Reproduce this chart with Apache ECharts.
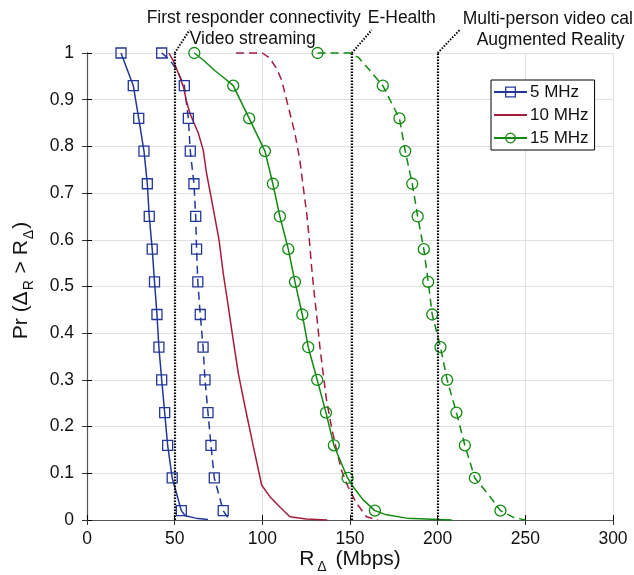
<!DOCTYPE html>
<html><head><meta charset="utf-8">
<script src="https://cdn.jsdelivr.net/npm/echarts@6/dist/echarts.min.js"></script>
<style>html,body{margin:0;padding:0;background:#fff;}#c{width:634px;height:575px;}</style>
</head><body><div id="c"></div>
<script>
// ---- data ----
const xTicks = [0, 50, 100, 150, 200, 250, 300];
const seriesNames = ['5 MHz', '10 MHz', '15 MHz'];
const markerLevels = [1, 0.93, 0.86, 0.79, 0.72, 0.65, 0.58, 0.51, 0.44, 0.37, 0.30, 0.23, 0.16, 0.09, 0.02];
// 5 MHz (solid) - marker x positions at markerLevels, plus extra curve points
const mk5Solid = [19.4, 26.4, 29.5, 32.5, 34.4, 35.5, 37.2, 38.5, 39.9, 41.0, 42.6, 44.3, 46.0, 48.6, 53.8];
const ex5Solid = [[56, 0.009], [62, 0.004], [69, 0.001]];
// 5 MHz (dashed)
const mk5Dash = [42.6, 55.5, 57.8, 58.9, 61.0, 62.0, 62.5, 63.2, 64.6, 66.2, 67.3, 69.0, 70.7, 72.6, 77.7];
const ex5Dash = [[47.3, 0.985], [51.5, 0.962], [80, 0.007], [82.5, 0]];
// 10 MHz (solid)
const c10Solid = [[46.7, 1], [49, 0.985], [52.1, 0.957], [55.2, 0.925], [56.5, 0.90], [58.7, 0.871], [63.5, 0.828],
  [66.3, 0.792], [68.2, 0.742], [71.1, 0.685], [73.9, 0.628], [75.3, 0.60], [77.7, 0.528], [80.6, 0.457],
  [83.4, 0.385], [86.3, 0.314], [90.1, 0.243], [94.9, 0.157], [99.6, 0.075], [104.3, 0.05], [110, 0.028],
  [115.7, 0.007], [125, 0.002], [137, 0]];
// 10 MHz (dashed)
const c10Dash = [[85, 1], [100, 1], [104, 0.99], [108.1, 0.967], [111, 0.942], [114.8, 0.885], [118.6, 0.828],
  [121.4, 0.771], [123.3, 0.714], [125.3, 0.657], [126.8, 0.60], [128.1, 0.542], [129.6, 0.485], [131.3, 0.428],
  [132.8, 0.371], [134.7, 0.314], [136.6, 0.257], [139.4, 0.20], [142.3, 0.15], [145.1, 0.107], [148.9, 0.071],
  [153.7, 0.036], [159.4, 0.007], [166, 0]];
// 15 MHz (solid)
const mk15Solid = [61.2, 83.4, 92.5, 101.5, 106.0, 110.0, 114.8, 118.6, 122.8, 126.2, 131.3, 136.3, 140.8, 148.6, 164.2];
const ex15Solid = [[66.3, 0.985], [73, 0.962], [77.7, 0.948], [152, 0.07], [157.5, 0.043], [170.8, 0.011], [182.3, 0.004], [208, 0]];
// 15 MHz (dashed)
const mk15Dash = [131.5, 168.7, 178.2, 181.5, 185.5, 188.6, 192.1, 194.6, 196.9, 201.6, 205.4, 210.7, 215.5, 221.2, 235.8];
const ex15Dash = [[150, 1], [155, 0.99], [159.4, 0.971], [229.5, 0.052], [243, 0.006], [250, 0]];
// service thresholds (vertical dotted lines)
const serviceRates = [50, 151, 200];
const serviceLabels = [
  ['First responder connectivity', 'Video streaming'],
  ['E-Health'],
  ['Multi-person video call', 'Augmented Reality']
];

// ---- styles ----
const FONT = '"Liberation Sans", Arial, Helvetica, sans-serif';
const FS = 17.5;
const NFS = 21;
const BLUE = '#22379a', RED = '#a51d3d', GREEN = '#108a10';

function build(markX, extra) {
  const pts = [];
  markX.forEach((x, i) => pts.push({ value: [x, markerLevels[i]] }));
  extra.forEach(p => pts.push({ value: p, symbol: 'none' }));
  pts.sort((a, b) => (b.value[1] - a.value[1]) || (a.value[0] - b.value[0]));
  return pts;
}
function plain(arr) { return arr.map(p => ({ value: p, symbol: 'none' })); }

function lineSeries(id, name, data, color, dashed, symbol, size) {
  return {
    id, name, type: 'line', data, clip: false, showAllSymbol: true,
    symbol: symbol, symbolSize: size, z: 3,
    itemStyle: { color: 'rgba(0,0,0,0)', borderColor: color, borderWidth: 1.3 },
    lineStyle: { color: color, width: 1.5, type: dashed ? [8, 5] : 'solid' },
    emphasis: { disabled: true }
  };
}

const chart = echarts.init(document.getElementById('c'), null, { renderer: 'canvas' });
const option = {
  animation: false,
  backgroundColor: '#fff',
  textStyle: { fontFamily: FONT },
  grid: { left: 87, right: 21, top: 53, bottom: 55, containLabel: false, outerBoundsMode: 'none' },
  xAxis: [{
    type: 'value', min: xTicks[0], max: xTicks[xTicks.length - 1], interval: xTicks[1] - xTicks[0],
    position: 'bottom',
    axisLine: { lineStyle: { color: '#000', width: 1 } },
    axisTick: { inside: true, length: 5, lineStyle: { color: '#000' } },
    axisLabel: { fontSize: FS, color: '#111', margin: 10, fontFamily: FONT },
    splitLine: { show: true, lineStyle: { color: '#e0e0e0', width: 1 } },
    name: '{a|R}{s|Δ}{a| (Mbps)}', nameLocation: 'middle', nameGap: 28, nameMoveOverlap: false,
    nameTextStyle: {
      rich: {
        a: { fontSize: NFS, fontFamily: FONT, color: '#111', lineHeight: 22 },
        s: { fontSize: 14, fontFamily: FONT, color: '#111', lineHeight: 16, padding: [16, 3, 0, 3] }
      }
    }
  }, {
    type: 'value', min: xTicks[0], max: xTicks[xTicks.length - 1], interval: xTicks[1] - xTicks[0],
    position: 'top',
    axisLine: { lineStyle: { color: '#555', width: 1.2 } },
    axisTick: { inside: true, length: 5, lineStyle: { color: '#333' } },
    axisLabel: { show: false }, splitLine: { show: false }
  }],
  yAxis: [{
    type: 'value', min: 0, max: 1, interval: 0.1, position: 'left',
    axisLine: { show: true, lineStyle: { color: '#000', width: 1 } },
    axisTick: { show: true, inside: true, length: 5, lineStyle: { color: '#000' } },
    axisLabel: { fontSize: FS, color: '#111', margin: 13, fontFamily: FONT },
    splitLine: { show: true, lineStyle: { color: '#e0e0e0', width: 1 } },
    name: '{a|Pr (Δ}{s|R}{a| > R}{s|Δ}{a|)}', nameLocation: 'middle', nameRotate: 90, nameGap: 55, nameMoveOverlap: false,
    nameTextStyle: {
      padding: [0, 0, 0, 12],
      rich: {
        a: { fontSize: NFS, fontFamily: FONT, color: '#111', lineHeight: 22 },
        s: { fontSize: 14, fontFamily: FONT, color: '#111', lineHeight: 16, padding: [16, 1, 0, 1] }
      }
    }
  }, {
    type: 'value', min: 0, max: 1, interval: 0.1, position: 'right',
    axisLine: { show: true, lineStyle: { color: '#555', width: 1.2 } },
    axisTick: { show: true, inside: true, length: 5, lineStyle: { color: '#333' } },
    axisLabel: { show: false }, splitLine: { show: false }
  }],
  legend: {
    data: [{ name: seriesNames[0] }, { name: seriesNames[1], itemStyle: { opacity: 0 } }, { name: seriesNames[2] }],
    orient: 'vertical', left: 491, top: 80,
    backgroundColor: '#fff', borderColor: '#000', borderWidth: 1, borderRadius: 0,
    padding: [3, 6, 3, 2], itemGap: 5, itemWidth: 33, itemHeight: 12,
    itemStyle: { borderWidth: 1.3 },
    textStyle: { fontSize: 17, lineHeight: 18, fontFamily: FONT, color: '#111', padding: [0, 0, 0, -2] },
    selectedMode: false
  },
  series: [
    lineSeries('s5', seriesNames[0], build(mk5Solid, ex5Solid), BLUE, false, 'rect', 10),
    lineSeries('s5d', '5 MHz dashed', build(mk5Dash, ex5Dash), BLUE, true, 'rect', 10),
    lineSeries('s10', seriesNames[1], plain(c10Solid), RED, false, 'none', 0),
    lineSeries('s10d', '10 MHz dashed', plain(c10Dash), RED, true, 'none', 0),
    lineSeries('s15', seriesNames[2], build(mk15Solid, ex15Solid), GREEN, false, 'circle', 11),
    lineSeries('s15d', '15 MHz dashed', build(mk15Dash, ex15Dash), GREEN, true, 'circle', 11),
    {
      id: 'thresholds', name: 'thresholds', type: 'line', data: [], z: 4,
      markLine: {
        silent: true, symbol: ['none', 'none'], label: { show: false },
        lineStyle: { color: '#000', type: [1.5, 1.5], width: 2.2 },
        data: serviceRates.map(v => ({ xAxis: v }))
      }
    }
  ]
};
chart.setOption(option);

// arrows + annotation texts anchored to the threshold lines
const arrowVec = [[15, -23], [20, -23], [22, -23]];
const textPos = [[[-28, -35], [15, -14]], [[16, -35]], [[25, -34], [39, -13]]];
const arrowData = [];
const graphics = [];
serviceRates.forEach((v, i) => {
  const p = chart.convertToPixel({ xAxisIndex: 0, yAxisIndex: 0 }, [v, 1]);
  arrowData.push([{ x: p[0], y: p[1] }, { x: p[0] + arrowVec[i][0], y: p[1] + arrowVec[i][1] }]);
  serviceLabels[i].forEach((t, j) => {
    graphics.push({
      type: 'text', x: p[0] + textPos[i][j][0], y: p[1] + textPos[i][j][1], z: 10,
      style: { text: t, font: FS + 'px ' + FONT, fill: '#111', verticalAlign: 'middle', align: 'left' }
    });
  });
});
chart.setOption({
  graphic: graphics,
  series: [{
    id: 'arrows', name: 'arrows', type: 'line', data: [], z: 5,
    markLine: {
      silent: true, symbol: ['none', 'arrow'], symbolSize: [0, 9], label: { show: false },
      lineStyle: { color: '#000', type: [1.5, 1.5], width: 2 },
      data: arrowData
    }
  }]
});
</script></body></html>
